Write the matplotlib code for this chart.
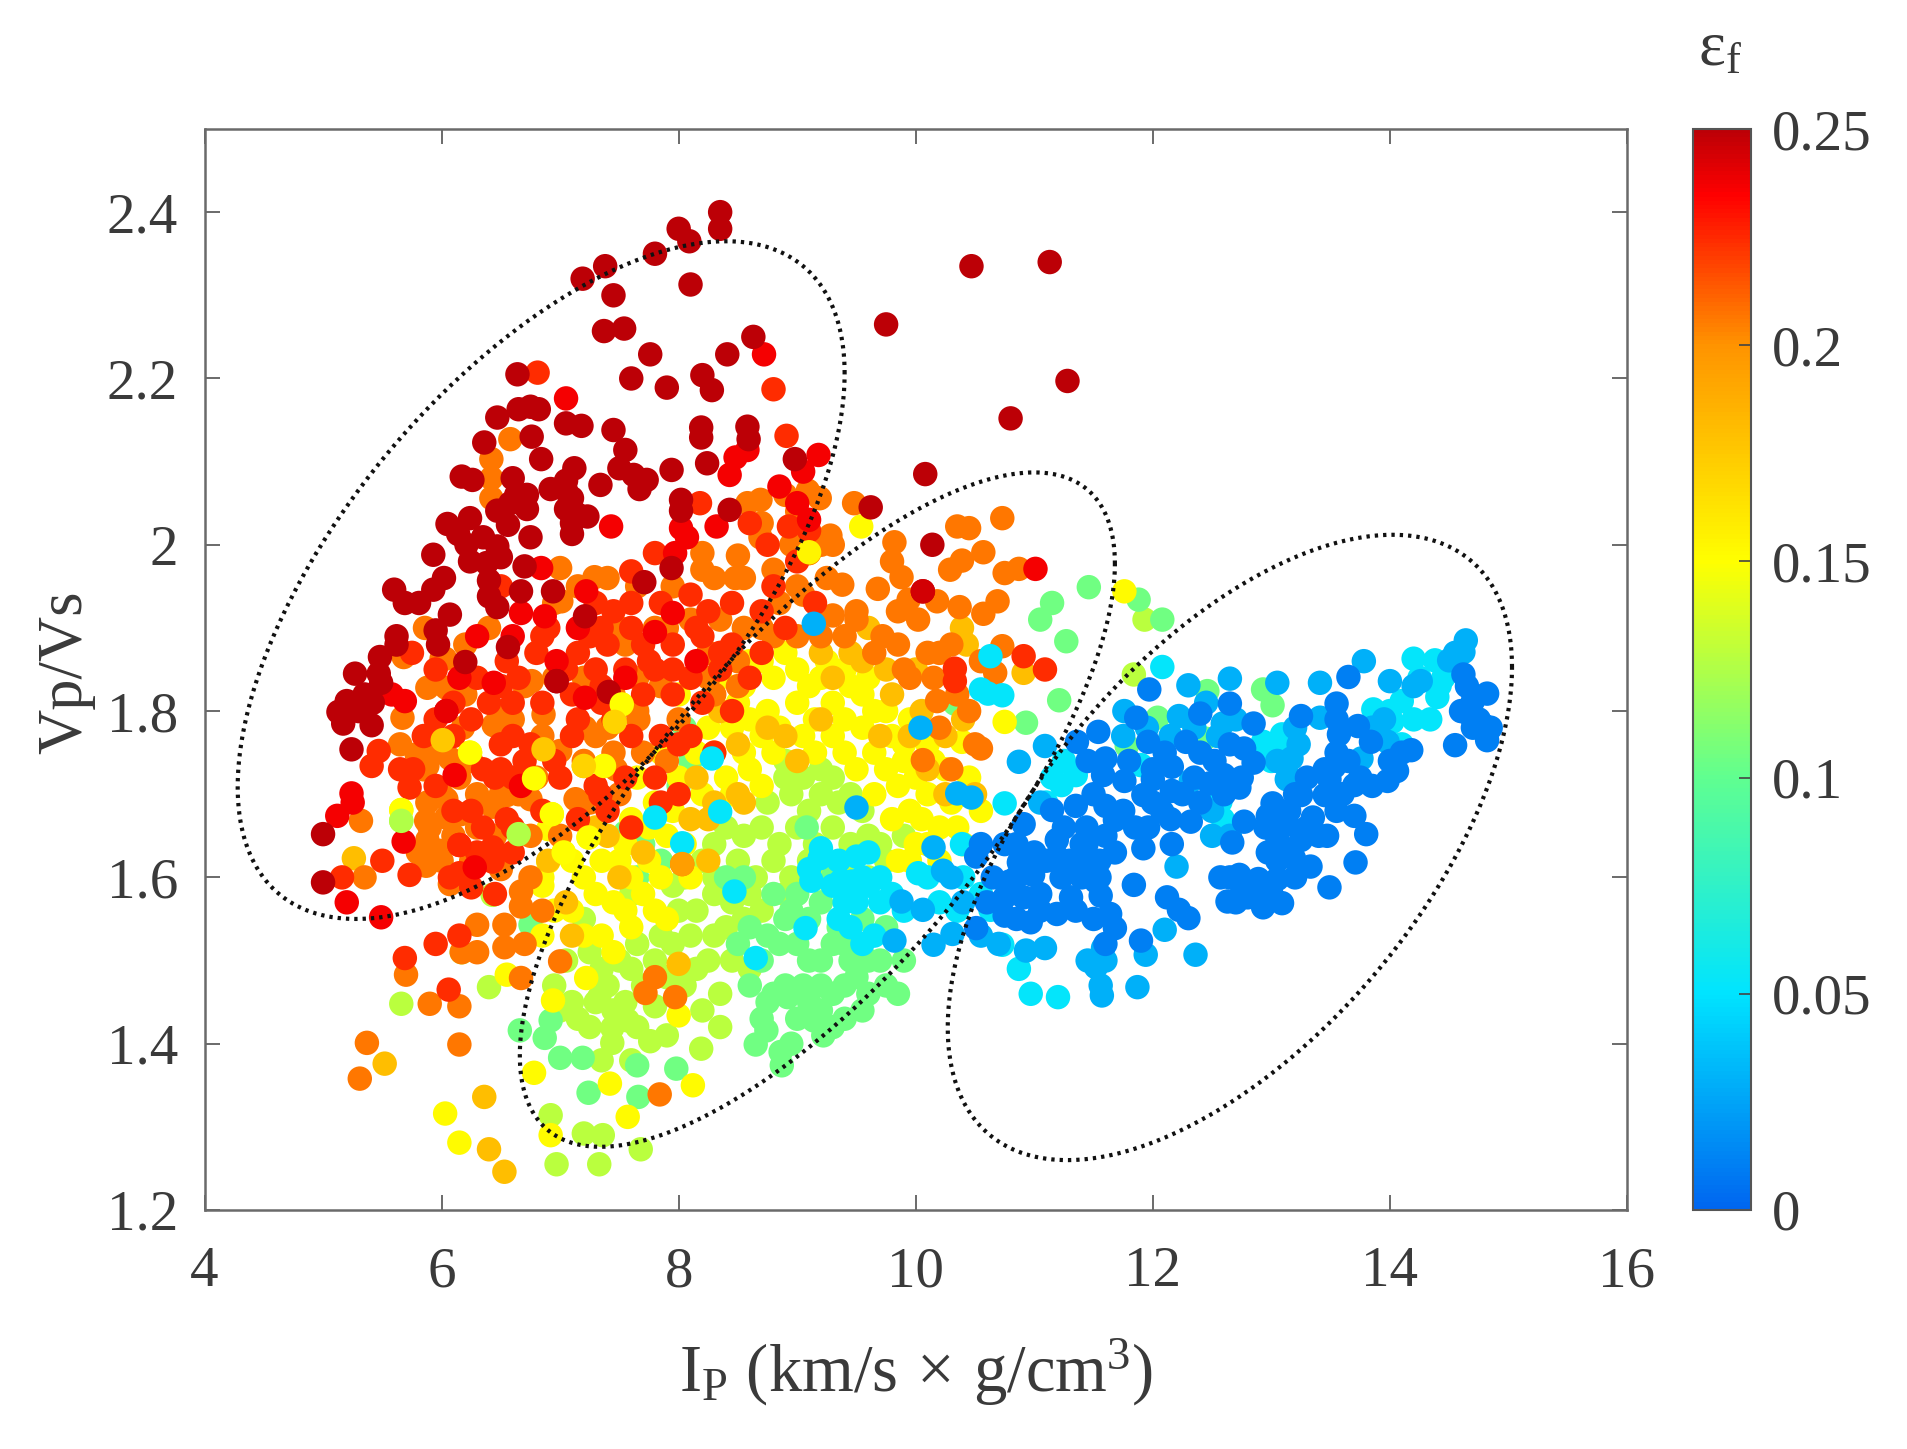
import numpy as np
import matplotlib
matplotlib.use("Agg")
import matplotlib.pyplot as plt
from matplotlib.colors import LinearSegmentedColormap

plt.rcParams['font.family'] = ['Liberation Serif', 'DejaVu Serif']
plt.rcParams['mathtext.fontset'] = 'custom'
plt.rcParams['mathtext.rm'] = 'Liberation Serif'
plt.rcParams['mathtext.it'] = 'Liberation Serif'

# (Ip, Vp/Vs), grouped by strain colour value
dark_red = [(8.35,2.40),(8.35,2.38),(8.0,2.38),(8.09,2.365),(7.8,2.35),(7.38,2.335),(7.19,2.32),(7.45,2.30),(8.1,2.313),
 (7.37,2.257),(7.54,2.26),(7.76,2.229),(8.41,2.229),(8.63,2.25),(7.6,2.2),(7.9,2.189),(8.2,2.204),(8.28,2.186),(9.75,2.265),
 (10.47,2.335),(11.13,2.34),(11.28,2.197),(10.8,2.152),(10.08,2.085),(6.64,2.205),(6.47,2.153),(6.65,2.163),(6.75,2.166),
 (6.82,2.163),(7.05,2.146),(7.18,2.143),(7.45,2.138),(6.76,2.13),(6.36,2.123),(8.19,2.141),(8.19,2.129),(8.58,2.142),(8.59,2.127),
 (7.55,2.114),(6.84,2.103),(8.98,2.103),(8.24,2.098),(7.12,2.092),(7.94,2.09),(7.5,2.092),(6.17,2.082),(6.26,2.078),(6.6,2.08),
 (7.62,2.084),(7.73,2.078),(7.34,2.072),(7.67,2.067),(7.05,2.077),(6.92,2.067),(7.05,2.065),(6.72,2.06),(6.63,2.06),(6.58,2.05),
 (7.1,2.056),(6.72,2.043),(7.05,2.043),(8.02,2.054),(8.02,2.041),(8.43,2.042),(6.47,2.041),(7.14,2.037),(7.23,2.034),(6.56,2.024),
 (7.1,2.026),(7.1,2.013),(6.75,2.009),(6.05,2.025),(6.24,2.032),(6.14,2.013),(6.21,2.0),(6.35,2.009),(6.47,1.998),(6.24,1.98),
 (6.38,1.978),(6.5,1.985),(5.93,1.988),(6.7,1.974),(7.71,1.955),(7.94,1.972),(6.02,1.96),(5.93,1.946),(5.6,1.946),(5.69,1.93),
 (5.81,1.93),(6.4,1.957),(6.4,1.938),(6.47,1.925),(6.67,1.944),(6.94,1.944),(6.07,1.916),(7.21,1.914),(5.62,1.89),(5.62,1.88),
 (5.95,1.897),(5.97,1.88),(5.48,1.865),(6.56,1.877),(5.27,1.845),(5.47,1.845),(5.49,1.834),(5.2,1.812),(5.13,1.799),(5.17,1.785),
 (5.41,1.783),(5.24,1.754),(6.2,1.859),(6.97,1.836),(7.41,1.823),(5.0,1.652),(5.0,1.594),(9.62,2.045),(10.06,1.944),(10.14,2.0),
 (5.3,1.80),(5.35,1.82),(5.42,1.81)]

red = [(8.72,2.229),(7.05,2.176),(8.58,2.114),(8.48,2.105),(9.18,2.108),(8.43,2.084),(9.05,2.088),(7.43,2.022),(8.02,2.02),
 (8.32,2.022),(8.07,2.009),(6.84,1.972),(7.97,1.99),(7.22,1.944),(6.67,1.918),(7.95,1.918),(6.87,1.914),(6.04,1.8),(5.69,1.812),
 (7.21,1.816),(6.44,1.834),(6.67,1.71),(6.11,1.723),(5.24,1.701),(5.25,1.69),(5.12,1.674),(5.68,1.643),(5.2,1.57),(5.49,1.552),
 (6.28,1.612),(11.01,1.971),(6.97,1.86),(7.55,1.84),(6.15,1.84),(7.8,1.895),(8.15,1.86),(6.6,1.89),(7.15,1.9),(5.58,1.82),(6.3,1.89),
 (8.85,2.07),(9.0,2.05),(9.1,2.03)]

orange_red = [(6.81,2.207),(8.8,2.187),(8.91,2.131),(8.18,2.05),(8.6,2.026),(8.93,2.022),(9.1,2.017),(7.6,1.968),(7.8,1.99),(5.16,1.6),
 (5.5,1.62),(5.73,1.603),(6.15,1.605),(6.15,1.639),(6.43,1.636),(7.34,1.699),(6.15,1.53),(5.95,1.52),(5.69,1.503),(6.06,1.465),
 (10.33,1.851),(10.33,1.836),(11.09,1.85),(10.91,1.866),(6.5,1.95),(6.85,1.89),(7.3,1.93),(7.45,1.92),(7.6,1.93),(7.85,1.93),
 (8.1,1.94),(8.25,1.92),(8.45,1.93),(8.7,1.92),(8.9,1.9),(7.15,1.87),(7.4,1.88),(7.7,1.88),(7.95,1.88),(8.2,1.89),(8.45,1.88),
 (8.7,1.87),(6.55,1.86),(6.8,1.87),(7.05,1.85),(7.3,1.85),(7.55,1.85),(7.8,1.85),(8.1,1.84),(8.35,1.85),(8.6,1.84),(5.75,1.87),
 (6.3,1.84),(5.95,1.79),(6.4,1.81),(6.6,1.81),(6.85,1.81),(7.1,1.82),(7.35,1.81),(7.7,1.82),(7.95,1.82),(8.2,1.81),(8.45,1.8),
 (5.85,1.77),(6.1,1.77),(6.6,1.77),(6.75,1.76),(7.1,1.77),(7.6,1.77),(7.85,1.77),(8.1,1.77),(8.3,1.75),(5.65,1.73),(5.95,1.71),
 (6.45,1.72),(6.7,1.74),(7.0,1.72),(7.3,1.71),(7.55,1.72),(7.8,1.72),(8.0,1.7),(6.1,1.68),(6.55,1.67),(6.85,1.68),(7.15,1.67),
 (7.4,1.68),(7.6,1.66),(5.47,1.752),(5.41,1.734),(6.35,1.73),(6.5,1.73),(6.6,1.72),(5.73,1.708),(5.76,1.73),(6.25,1.588),(6.07,1.6),
 (6.43,1.619),(6.35,1.66),(6.6,1.63),
 (7.35,1.9),(7.6,1.9),(7.75,1.86),(7.95,1.85),(8.35,1.87),(8.15,1.9),(6.9,1.9),(7.25,1.89),(6.5,1.83),(6.65,1.84),(7.35,1.83),(7.15,1.79),
 (7.45,1.79),(6.25,1.79),(6.5,1.76),(6.95,1.74),(6.25,1.68),(6.6,1.66),(5.95,1.85),(6.1,1.81),(6.45,1.58),(6.3,1.63),(7.85,1.69),(8.0,1.76),
 (8.75,2.0),(8.8,1.95),(9.0,1.98),(9.15,1.93)]

orange = [(6.58,2.127),(6.42,2.103),(6.42,2.08),(6.42,2.056),(9.09,2.065),(9.19,2.056),(8.9,2.06),(8.69,2.054),(8.58,2.05),(8.7,2.026),
 (9.28,2.011),(9.3,2.0),(8.69,2.009),(7.0,1.972),(7.29,1.961),(8.2,1.99),(8.2,1.97),(8.5,1.987),(8.48,1.96),(7.01,1.932),(5.86,1.9),
 (5.68,1.865),(6.03,1.863),(6.2,1.88),(6.4,1.9),(6,1.863),(5.67,1.792),(5.88,1.828),(6.04,1.828),(6.2,1.82),(6.18,1.78),(5.65,1.76),
 (6.44,1.783),(6.48,1.8),(6.86,1.796),(7.0,1.752),(7.21,1.78),(7.66,1.79),(6.76,1.836),(5.79,1.748),(5.88,1.734),(6.07,1.743),(5.88,1.69),
 (6.04,1.694),(6.16,1.676),(5.87,1.668),(6.04,1.672),(5.88,1.645),(5.98,1.632),(5.87,1.614),(6.75,1.694),(6.55,1.699),(6.43,1.685),
 (7.13,1.694),(7.47,1.73),(5.32,1.668),(5.35,1.6),(6.07,1.592),(6.67,1.583),(6.67,1.565),(6.53,1.543),(6.3,1.543),(6.17,1.51),
 (5.7,1.483),(5.9,1.448),(6.15,1.445),(6.3,1.51),(6.53,1.516),(7.0,1.499),(6.67,1.479),(5.37,1.401),(6.15,1.399),(5.31,1.358),
 (9.82,2.003),(10.35,2.022),(10.45,2.02),(10.73,2.032),(10.57,1.991),(10.39,1.981),(10.29,1.97),(10.75,1.966),(10.87,1.971),
 (9.38,1.952),(9.68,1.947),(9.88,1.961),(10.18,1.932),(10.37,1.925),(10.69,1.932),(10.57,1.917),(9.94,1.934),(10.02,1.91),(9.3,1.915),
 (9.72,1.89),(10.1,1.87),(10.73,1.878),(10.67,1.846),(10.06,1.741),(10.55,1.755),(10.18,1.812),(9.48,2.05),(9.8,1.98),(9.25,1.96),
 (5.85,1.73),(6.0,1.7),(6.15,1.72),(5.9,1.66),(6.1,1.65),(6.3,1.66),(5.8,1.63),(6.0,1.62),(6.5,1.7),(6.8,1.72),(7.4,1.78),(7.2,1.74),
 (7.65,1.8),(6.95,1.84),(7.55,1.88),(7.9,1.9),(8.25,1.84),(8.5,1.86),(8.7,1.9),(8.03,1.616),(7.8,1.48),(7.72,1.461),(7.97,1.456),
 (7.84,1.339),(9.05,1.94),(9.2,1.89),(9.5,1.91),(9.9,1.85),(10.2,1.87),(9.1,1.99),
 (6.95,1.93),(7.15,1.95),(7.4,1.96),(7.65,1.95),(7.95,1.95),(8.3,1.96),(8.55,1.96),(8.8,1.97),(9.0,1.95),(8.85,1.93),(7.5,1.9),(7.8,1.9),
 (8.1,1.91),(8.35,1.91),(8.55,1.9),(6.7,1.83),(7.2,1.84),(7.45,1.82),(7.65,1.84),(7.85,1.83),(8.25,1.87),(8.5,1.83),(8.8,1.89),(9.0,1.89),
 (8.0,1.79),(8.3,1.82),(6.6,1.79),(6.85,1.77),(7.3,1.77),(7.45,1.75),(7.7,1.75),(7.9,1.74),(5.95,1.75),(6.25,1.74),(6.3,1.7),(6.65,1.7),
 (7.25,1.69),(7.5,1.7),(6.45,1.65),(6.25,1.62),(6.5,1.61),(6.75,1.65),(7.0,1.65),(6.85,1.56),(6.7,1.52),(6.75,1.6),(9.5,1.92),(9.65,1.87),
 (9.85,1.88),(9.95,1.84),(10.15,1.84),(10.35,1.82),(10.45,1.8),(9.4,1.89),(10.3,1.88),(10.55,1.86),(10.2,1.78),(10.5,1.76),(10.3,1.73),
 (9.85,1.92),(8.95,2.0),(9.2,2.0),(9.0,2.04)]

yellow_orange = [(9.1,1.991),(6.01,1.765),(6.86,1.754),(7.46,1.787),(7.2,1.734),(5.26,1.623),(8.0,1.496),(5.52,1.376),(6.36,1.336),
 (6.4,1.273),(6.53,1.246),(9.6,1.9),(10.39,1.9),(10.43,1.88),(10.91,1.846),(8.5,1.76),(8.15,1.72),(8.35,1.8),(8.75,1.78),(9.0,1.74),
 (9.3,1.84),(9.55,1.86),(9.8,1.82),(10.05,1.8),(10.4,1.79),(10.25,1.7),(10.5,1.7),(7.3,1.66),(6.9,1.62),(7.05,1.57),(8.5,1.7),(8.25,1.67),
 (9.2,1.87),(9.45,1.87),(9.75,1.85),(10.0,1.85),(8.55,1.69),(8.9,1.77),(9.2,1.79),(9.7,1.77),(9.95,1.77),(10.25,1.77),(10.1,1.73),(8.1,1.67),
 (8.3,1.69),(7.4,1.65),(7.7,1.63),(7.1,1.53),(7.5,1.6),(8.25,1.62)]

yellow = [(9.54,2.022),(9.1,1.99),(7.52,1.808),(6.24,1.75),(6.78,1.719),(6.93,1.676),(6.9,1.658),(5.66,1.681),(7.24,1.648),(7.03,1.63),
 (7.37,1.734),(6.85,1.6),(6.9,1.619),(6.55,1.483),(6.94,1.452),(7.22,1.479),(7.42,1.352),(8.12,1.35),(8.0,1.434),(6.78,1.365),
 (6.03,1.316),(6.15,1.281),(6.92,1.29),(7.57,1.312),(11.76,1.944),(10.75,1.787),(10.39,1.763),(8.6,1.86),(8.8,1.84),(9.0,1.85),
 (9.2,1.84),(9.4,1.85),(8.5,1.81),(8.75,1.8),(9.0,1.81),(9.3,1.81),(9.55,1.82),(9.75,1.8),(9.95,1.79),(8.7,1.77),(9.05,1.77),(9.3,1.77),
 (9.55,1.78),(9.8,1.77),(10.1,1.76),(8.3,1.75),(8.6,1.73),(9.5,1.73),(9.75,1.73),(10.0,1.72),(10.25,1.73),(10.45,1.72),(10.3,1.69),
 (10.55,1.68),(10.2,1.66),(9.95,1.68),(7.95,1.68),(7.75,1.66),(7.5,1.62),(7.75,1.62),(8.05,1.64),(7.2,1.6),(7.45,1.57),(7.7,1.58),
 (7.35,1.53),(7.6,1.54),(7.9,1.55),(8.1,1.6),(7.65,1.72),(7.85,1.75),(8.0,1.82),(8.25,1.78),(8.4,1.72),(10.1,1.64),(9.95,1.62),(6.85,1.53),
 (8.35,1.84),(8.55,1.83),(8.7,1.86),(8.9,1.87),(9.1,1.83),(9.25,1.86),(9.45,1.83),(9.6,1.84),(8.45,1.78),(8.6,1.79),(8.85,1.78),(9.15,1.79),
 (9.4,1.79),(9.65,1.8),(9.9,1.76),(8.55,1.75),(8.8,1.75),(9.15,1.75),(9.4,1.75),(9.65,1.75),(9.9,1.74),(10.15,1.74),(8.45,1.7),(8.7,1.71),
 (9.65,1.7),(9.85,1.71),(10.1,1.7),(10.4,1.7),(10.05,1.67),(10.35,1.66),(9.8,1.67),(8.0,1.72),(7.8,1.69),(7.6,1.67),(7.9,1.65),(7.55,1.64),
 (7.35,1.62),(7.6,1.6),(7.85,1.6),(7.3,1.58),(7.55,1.56),(7.8,1.56),(7.1,1.56),(7.2,1.53),(7.45,1.51),(6.95,1.56),(6.85,1.59),(7.1,1.62),
 (8.2,1.7),(8.15,1.75),(10.0,1.64),(10.2,1.62),(10.4,1.64),(9.85,1.62)]

yellow_green = [(6.65,1.652),(5.66,1.668),(6.43,1.579),(5.66,1.448),(6.4,1.468),(7.33,1.456),(7.44,1.419),(7.44,1.401),(7.8,1.445),
 (7.57,1.428),(7.76,1.403),(8.19,1.394),(6.97,1.255),(7.33,1.255),(7.68,1.273),(7.2,1.292),(7.36,1.29),(6.92,1.314),(6.17,1.51),
 (11.93,1.91),(11.84,1.844),(8.9,1.74),(9.2,1.73),(8.95,1.7),(9.2,1.7),(9.45,1.7),(8.4,1.66),(8.7,1.66),(9,1.66),(9.3,1.66),(9.6,1.65),
 (9.9,1.65),(7.95,1.59),(8.2,1.62),(8.5,1.62),(8.8,1.62),(9.1,1.62),(9.4,1.62),(9.75,1.62),(7.6,1.58),(8.0,1.56),(8.3,1.58),(8.6,1.58),
 (8.9,1.58),(7.2,1.55),(7.5,1.5),(7.8,1.5),(8.1,1.53),(8.4,1.54),(7.4,1.47),(7.7,1.47),(7.25,1.51),(7.05,1.5),(6.95,1.47),(8.25,1.5),
 (8.05,1.47),(8.35,1.46),(8.6,1.49),(8.2,1.44),(7.15,1.43),(7.6,1.38),
 (8.9,1.72),(9.05,1.72),(9.3,1.72),(8.75,1.69),(9.1,1.68),(9.35,1.69),(9.55,1.68),(8.3,1.64),(8.55,1.65),(8.85,1.64),(9.15,1.64),(9.45,1.64),
 (9.7,1.64),(8.05,1.6),(8.3,1.6),(8.65,1.6),(8.95,1.6),(9.2,1.6),(9.6,1.6),(7.85,1.53),(8.15,1.56),(8.45,1.57),(8.7,1.56),(7.65,1.52),
 (7.95,1.52),(8.3,1.53),(8.55,1.55),(7.35,1.49),(7.6,1.49),(7.9,1.48),(8.15,1.49),(8.45,1.5),(7.3,1.45),(7.55,1.45),(7.25,1.42),(7.45,1.44),
 (7.65,1.42),(7.35,1.38),(7.9,1.41),(7.1,1.45),(8.35,1.42),(7.0,1.44)]

green = [(6.75,1.543),(6.92,1.428),(6.66,1.416),(6.87,1.407),(7.19,1.383),(7.0,1.383),(7.65,1.374),(7.24,1.341),(7.66,1.336),(7.98,1.37),
 (8.74,1.416),(8.86,1.39),(8.65,1.399),(8.87,1.374),(8.92,1.456),(9.14,1.428),(9.22,1.41),(11.46,1.949),(11.15,1.93),(11.05,1.91),
 (11.27,1.884),(11.88,1.934),(12.08,1.91),(11.21,1.813),(10.33,1.809),(10.93,1.786),(12.46,1.824),(12.93,1.826),(13.01,1.807),
 (12.04,1.792),(11.78,1.758),(12.44,1.767),(8.05,1.78),(7.65,1.6),(7.55,1.654),(9.08,1.66),(8.5,1.52),(8.7,1.5),(8.9,1.47),(9.1,1.5),
 (9.3,1.52),(9.5,1.48),(9.2,1.44),(9.4,1.43),(9.6,1.46),(8.9,1.55),(9.1,1.55),(8.75,1.45),(9.0,1.43),(9.3,1.46),(8.85,1.52),(9.7,1.5),
 (9.85,1.46),(9.45,1.5),(8.55,1.6),(8.8,1.58),(9.3,1.6),
 (8.1,1.74),(8.0,1.71),(8.6,1.54),(8.75,1.53),(9.0,1.52),(9.2,1.5),(9.4,1.52),(9.6,1.5),(8.6,1.47),(8.8,1.46),(9.05,1.47),(9.2,1.47),(9.4,1.47),
 (9.55,1.44),(8.95,1.4),(9.1,1.45),(9.3,1.42),(8.7,1.43),(9.75,1.47),(9.9,1.5),(9.0,1.58),(9.2,1.57),(8.95,1.56),(7.7,1.64),(7.85,1.62),
 (7.6,1.66),(8.4,1.6),(9.35,1.54),(9.55,1.55),(9.75,1.54)]

cyan = [(8.65,1.503),(9.07,1.539),(8.47,1.583),(8.35,1.679),(8.28,1.743),(8.03,1.641),(7.8,1.672),(9.12,1.596),(9.19,1.623),(9.37,1.596),
 (10.63,1.866),(10.61,1.821),(10.73,1.819),(10.55,1.826),(10.75,1.689),(10.39,1.64),(10.02,1.605),(9.46,1.595),(9.5,1.625),(9.2,1.635),
 (9.1,1.61),(9.7,1.6),(9.5,1.57),(9.7,1.57),(9.9,1.56),(9.3,1.59),(9.45,1.54),(9.65,1.53),(10.63,1.561),(10.87,1.49),(10.97,1.46),(11.2,1.456),
 (11.35,1.723),(11.23,1.711),(11.9,1.735),(12.08,1.853),(13.86,1.802),(14.1,1.812),(14.4,1.817),(14.02,1.787),(14.34,1.79),(13.09,1.772),
 (12.93,1.763),(12.57,1.691),(12.59,1.67),(14.2,1.863),(14.38,1.861),(14.42,1.831),(10.73,1.519),
 (9.35,1.62),(9.55,1.6),(9.6,1.63),(9.4,1.57),(9.6,1.59),(9.8,1.58),(9.35,1.55),(9.55,1.52),(10.1,1.6),(10.2,1.57),(10.35,1.56),(10.4,1.6),
 (10.55,1.58),(11.25,1.74),(11.15,1.72),(11.1,1.69),(13.0,1.74),(13.1,1.75),(14.0,1.8),(14.2,1.79),(14.25,1.84),(14.45,1.84),(14.1,1.76)]

light_blue = [(10.04,1.78),(10.35,1.701),(10.47,1.696),(9.5,1.684),(10.87,1.739),(11.09,1.758),(11.76,1.8),(12.3,1.831),(12.65,1.839),
 (13.05,1.834),(13.41,1.834),(13.78,1.86),(14.0,1.836),(14.64,1.885),(14.62,1.871),(14.5,1.861),(14.26,1.836),(12.22,1.794),(12.59,1.785),
 (13.41,1.792),(13.23,1.76),(13.98,1.763),(13.76,1.743),(13.17,1.743),(12.32,1.716),(13.13,1.718),(12.5,1.65),(10.15,1.636),(10.23,1.608),
 (9.88,1.571),(9.82,1.524),(10.15,1.519),(10.31,1.532),(12.2,1.613),(12.1,1.537),(11.58,1.515),(11.52,1.492),(11.56,1.47),(11.57,1.458),
 (11.87,1.468),(11.09,1.515),(10.93,1.512),(11.94,1.507),(12.36,1.507),(9.14,1.905),(10.06,1.561),
 (11.95,1.78),(12.15,1.77),(12.35,1.78),(12.55,1.77),(12.45,1.81),(12.7,1.79),(11.75,1.77),(13.05,1.74),(13.2,1.78),(13.15,1.72),(12.5,1.68),
 (12.65,1.65),(13.85,1.78),(13.95,1.79),(14.2,1.83),(14.55,1.87),(11.05,1.69),(10.55,1.53),(10.7,1.52),(10.4,1.57),(11.45,1.5),(11.6,1.5),(10.3,1.6)]

blue = [(11.54,1.775),(11.36,1.763),(11.97,1.826),(13.65,1.841),(14.62,1.844),(14.82,1.821),(14.7,1.812),(14.66,1.797),(14.8,1.782),
 (14.82,1.765),(14.55,1.759),(11.86,1.792),(12.4,1.797),(12.65,1.809),(12.85,1.785),(13.25,1.794),(13.55,1.809),(13.55,1.79),(13.73,1.782),
 (13.57,1.772),(13.84,1.763),(14.18,1.753),(11.96,1.763),(12.28,1.763),(12.77,1.755),(11.6,1.743),(12.16,1.733),(12.52,1.74),(12.85,1.738),
 (13.53,1.733),(14.06,1.728),(11.58,1.723),(11.76,1.716),(12.0,1.718),(12.6,1.723),(13.7,1.711),(13.49,1.718),(13.98,1.716),(11.92,1.699),
 (12.16,1.704),(12.48,1.713),(12.73,1.708),(13.01,1.689),(13.25,1.699),(13.45,1.699),(11.15,1.681),(11.35,1.686),(11.6,1.686),(12.08,1.679),
 (12.97,1.674),(13.13,1.664),(13.35,1.672),(13.7,1.674),(10.91,1.664),(11.44,1.66),(11.68,1.669),(11.96,1.66),(12.32,1.667),(12.77,1.667),
 (13.8,1.652),(13.47,1.65),(13.25,1.645),(13.05,1.647),(10.55,1.64),(10.75,1.64),(11.19,1.645),(11.44,1.64),(11.68,1.63),(11.92,1.635),
 (12.16,1.64),(12.67,1.642),(12.97,1.63),(13.19,1.623),(13.33,1.613),(13.71,1.618),(10.51,1.625),(10.87,1.618),(11.19,1.625),(11.44,1.618),
 (10.79,1.595),(10.99,1.603),(11.23,1.6),(11.52,1.595),(11.84,1.591),(12.57,1.6),(12.73,1.603),(12.89,1.598),(13.05,1.598),(13.49,1.588),
 (10.75,1.576),(10.91,1.576),(11.31,1.576),(11.56,1.578),(12.12,1.576),(12.63,1.571),(12.93,1.564),(13.09,1.569),(12.8,1.576),(12.3,1.551),
 (12.22,1.561),(10.75,1.554),(10.97,1.546),(11.19,1.556),(11.64,1.556),(11.68,1.539),(10.51,1.539),(11.9,1.524),
 (10.65,1.6),(10.85,1.6),(11.05,1.58),(11.1,1.62),(10.85,1.64),(11.0,1.63),(10.6,1.57),(10.85,1.55),(11.05,1.56),(11.3,1.62),(11.4,1.6),
 (11.55,1.62),(11.4,1.64),(11.6,1.65),(11.75,1.68),(11.85,1.66),(12.0,1.69),(12.15,1.67),(12.25,1.7),(12.35,1.72),(12.0,1.73),(12.1,1.75),
 (12.4,1.75),(12.65,1.76),(12.75,1.72),(11.8,1.74),(11.5,1.7),(11.45,1.74),(11.25,1.66),(12.4,1.69),(12.6,1.7),(13.05,1.66),(13.15,1.68),
 (13.3,1.66),(13.2,1.7),(13.3,1.72),(13.45,1.73),(13.55,1.75),(13.65,1.74),(13.75,1.72),(13.55,1.68),(13.4,1.65),(13.1,1.63),(12.95,1.66),
 (13.2,1.6),(13.05,1.62),(13.6,1.7),(13.85,1.71),(14.0,1.74),(14.1,1.75),(12.75,1.59),(12.85,1.58),(13.0,1.58),(12.7,1.57),(12.65,1.6),
 (11.55,1.6),(11.35,1.56),(11.5,1.55),(11.6,1.52),(14.65,1.83),(14.75,1.79),(14.7,1.78),(14.85,1.78),(14.6,1.8)]

group_values = [0.128, 0.105, 0.152, 0.18, 0.207, 0.224, 0.237, 0.25, 0.052, 0.03, 0.01]
group_points = [yellow_green, green, yellow, yellow_orange, orange, orange_red, red, dark_red, cyan, light_blue, blue]

# a few dots that sit on top of the red / orange mass
accent = [(6.01,1.765,0.175),(6.24,1.75,0.15),(6.78,1.719,0.15),(6.93,1.676,0.15),(6.65,1.652,0.125),(7.24,1.648,0.15),(7.03,1.63,0.15),
 (7.52,1.808,0.15),(7.46,1.787,0.17),(6.86,1.754,0.175),(7.37,1.734,0.15),(7.2,1.734,0.17),(9.1,1.991,0.155),(6.04,1.8,0.24),(5.66,1.681,0.15),
 (5.66,1.668,0.125),(8.03,1.616,0.195),(10.06,1.944,0.245),(6.15,1.639,0.225),(6.97,1.836,0.25)]

ellipse_cx = [6.84, 9.17, 12.65]
ellipse_cy = [1.9575, 1.6815, 1.636]
ellipse_ax = [2.56, 2.51, 2.38]
ellipse_ay = [0.4075, 0.4055, 0.376]
ellipse_phase = [52.4, 43.2, 54.8]

x_ticks = [4, 6, 8, 10, 12, 14, 16]
y_ticks = [1.2, 1.4, 1.6, 1.8, 2, 2.2, 2.4]
y_tick_labels = ['1.2', '1.4', '1.6', '1.8', '2', '2.2', '2.4']
cb_ticks = [0, 0.05, 0.1, 0.15, 0.2, 0.25]
cb_tick_labels = ['0', '0.05', '0.1', '0.15', '0.2', '0.25']

W, H = 1907, 1449
TXT = '#3a3a3a'
EDGE = '#6a6a6a'
cmap = LinearSegmentedColormap.from_list('jet_cut', [
    (0.0, '#0066f0'), (0.2, '#00e4ff'), (0.4, '#60ff90'), (0.6, '#ffff00'),
    (0.8, '#ff9400'), (0.94, '#ff0000'), (1.0, '#bc0006')])

fig = plt.figure(figsize=(W/100, H/100), dpi=100)
ax = fig.add_axes([204.5/W, 1-1210/H, (1627-204.5)/W, (1210-129)/H])

xs, ys, cs = [], [], []
for val, pts in zip(group_values, group_points):
    for px, py in pts:
        xs.append(px); ys.append(py); cs.append(val)
for px, py, val in accent:
    xs.append(px); ys.append(py); cs.append(val)
sc = ax.scatter(xs, ys, c=cs, cmap=cmap, vmin=0, vmax=0.25, s=310, linewidths=0, zorder=2)

t = np.linspace(0, 2*np.pi, 500)
for cx, cy, a, b, ph in zip(ellipse_cx, ellipse_cy, ellipse_ax, ellipse_ay, ellipse_phase):
    ax.plot(cx + a*np.cos(t), cy + b*np.cos(t - np.radians(ph)), color='#111111', lw=3.0,
            linestyle=(0, (0.8, 1.2)), zorder=3)

ax.set_xlim(4, 16)
ax.set_ylim(1.2, 2.5)
ax.set_xticks(x_ticks)
ax.set_yticks(y_ticks)
ax.set_yticklabels(y_tick_labels)
ax.tick_params(direction='in', top=True, right=True, length=11, width=1.4, color=EDGE,
               labelsize=41, labelcolor=TXT)
ax.tick_params(axis='y', pad=19)
ax.tick_params(axis='x', pad=26)
for s in ax.spines.values():
    s.set_color(EDGE); s.set_linewidth(1.8)
fig.text(66/W, 1-672/H, 'Vp/Vs', rotation=90, ha='center', va='center', fontsize=45, color=TXT)
fig.text(916/W, 1-1372/H, r'$\mathrm{I_P}$ (km/s$\,\times\,$g/cm$^3$)', ha='center', va='center', fontsize=48, color=TXT)

cax = fig.add_axes([1693/W, 1-1210/H, 58/W, (1210-129)/H])
cb = fig.colorbar(sc, cax=cax)
cb.set_ticks(cb_ticks)
cb.set_ticklabels(cb_tick_labels)
cax.tick_params(direction='in', length=9, width=1.2, color='#444444', labelsize=41, labelcolor=TXT, pad=15)
cb.outline.set_edgecolor('#555555'); cb.outline.set_linewidth(1.5)
fig.text(1720/W, 1-50/H, r'ε$_{\mathrm{f}}$', ha='center', va='center', fontsize=46, color=TXT)

fig.savefig('out.png', dpi=100, facecolor='white')
